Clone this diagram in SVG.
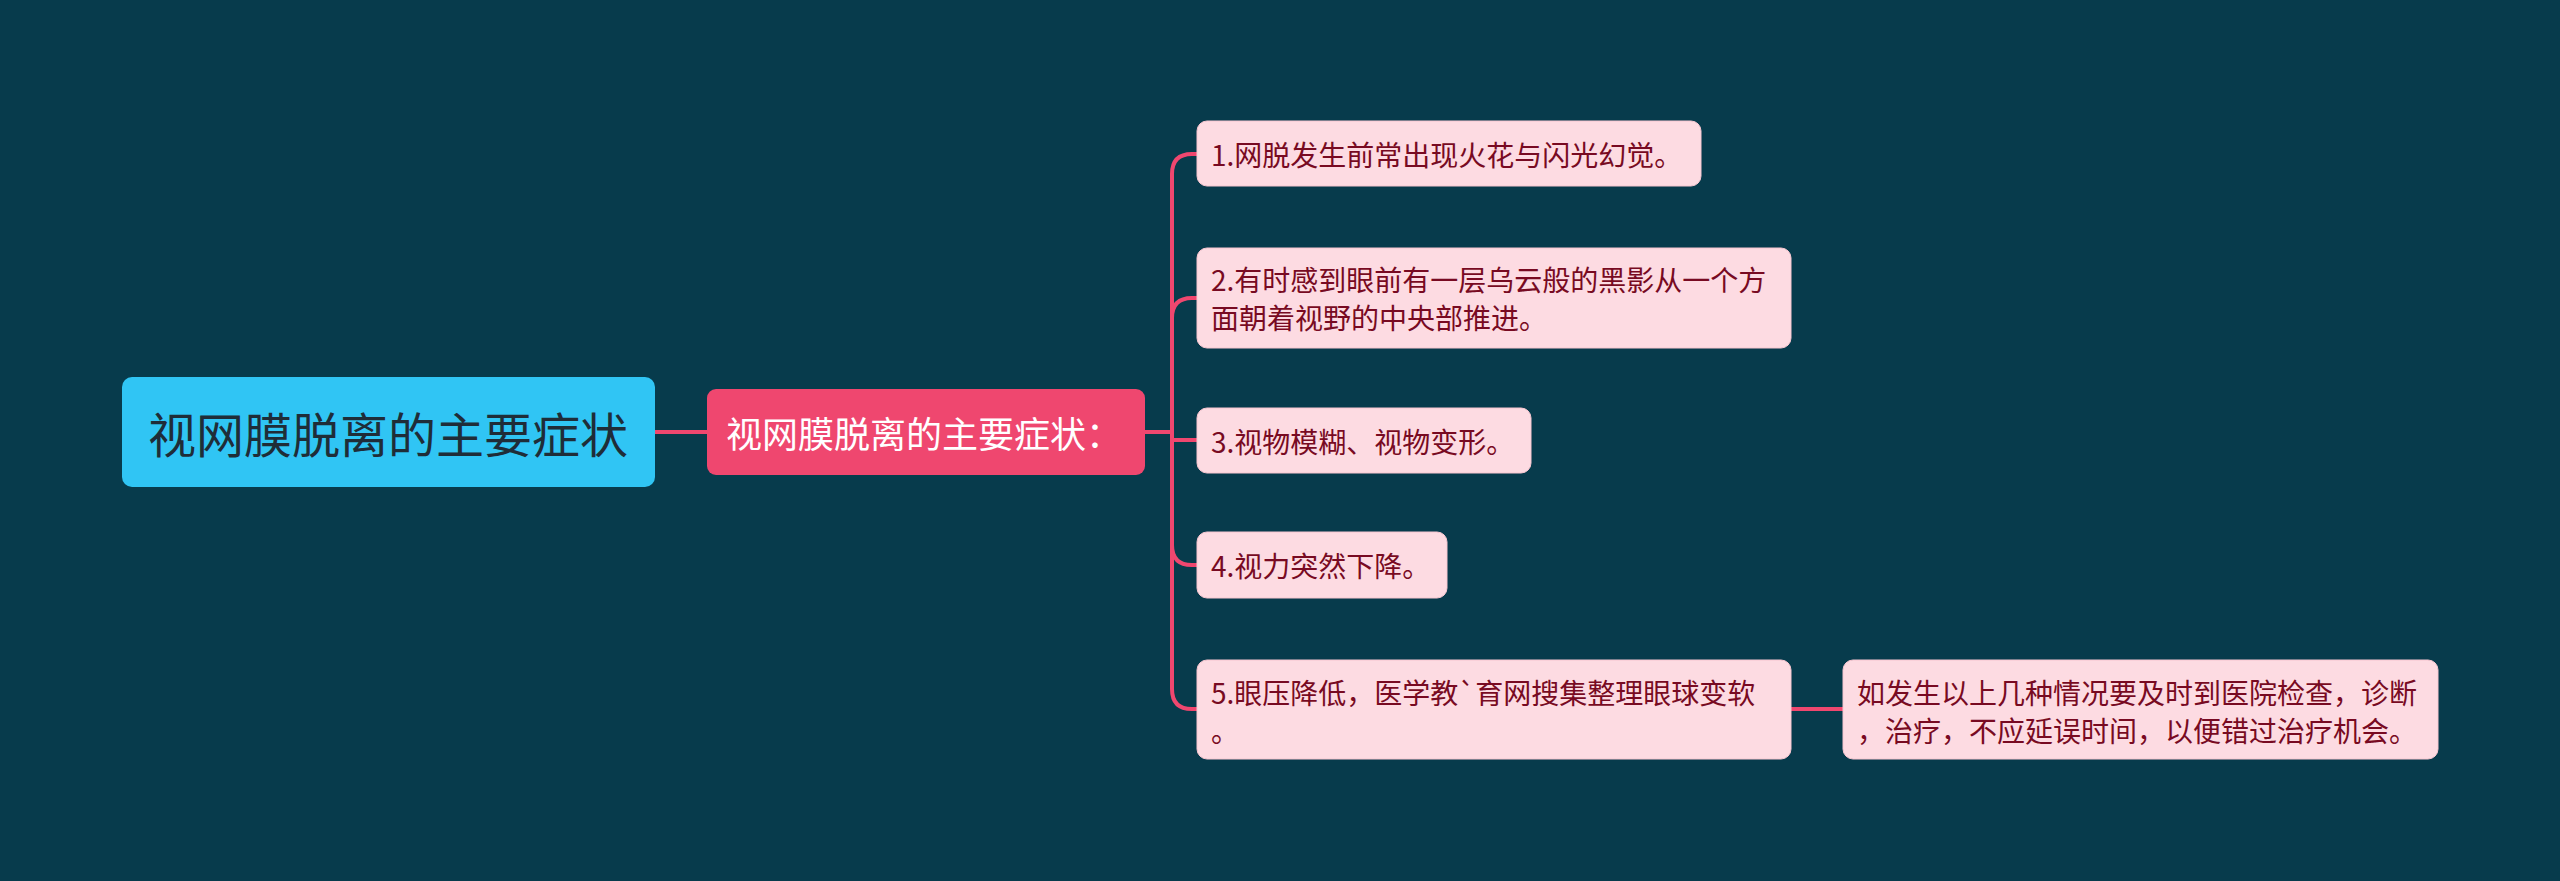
<svg xmlns="http://www.w3.org/2000/svg" width="2560" height="881" viewBox="0 0 2560 881">
<style>
.bg{fill:#073B4C}
.conn path{fill:none;stroke:#EF476F;stroke-width:4}
.child rect{fill:#FDDBE2;stroke:#F7C6D0;stroke-width:1}
.child text{font-family:"Noto Sans CJK SC","Noto Sans",sans-serif;font-size:28px;fill:#780A22;dominant-baseline:central}
</style>
<rect class="bg" x="0" y="0" width="2560" height="881"/>
<g id="connectors" class="conn">
<path d="M655,432 H707"/>
<path d="M1145,432 H1172"/>
<path d="M1172,432 V174 Q1172,154 1192,154 H1197"/>
<path d="M1172,432 V318 Q1172,298 1192,298 H1197"/>
<path d="M1172,432 V440 H1197"/>
<path d="M1172,432 V545 Q1172,565 1192,565 H1197"/>
<path d="M1172,432 V689 Q1172,709 1192,709 H1197"/>
<path d="M1791,709 H1843"/>
</g>
<g id="root">
<rect x="122" y="377" width="533" height="110" rx="10" fill="#30C5F4"/>
<text x="388" y="432" text-anchor="middle" dominant-baseline="central" font-family="Noto Sans CJK SC, sans-serif" font-size="48" fill="#1F2D38">视网膜脱离的主要症状</text>
</g>
<g id="main">
<rect x="707" y="389" width="438" height="86" rx="9" fill="#EF476F"/>
<text x="726" y="432" dominant-baseline="central" font-family="Noto Sans CJK SC, sans-serif" font-size="36" fill="#FFFFFF">视网膜脱离的主要症状：</text>
</g>
<g id="c1" class="child">
<rect x="1197" y="121" width="504" height="65" rx="10"/>
<text x="1211" y="154">1.网脱发生前常出现火花与闪光幻觉。</text>
</g>
<g id="c2" class="child">
<rect x="1197" y="248" width="594" height="100" rx="10"/>
<text x="1211" y="279">2.有时感到眼前有一层乌云般的黑影从一个方</text>
<text x="1211" y="317">面朝着视野的中央部推进。</text>
</g>
<g id="c3" class="child">
<rect x="1197" y="408" width="334" height="65" rx="10"/>
<text x="1211" y="441">3.视物模糊、视物变形。</text>
</g>
<g id="c4" class="child">
<rect x="1197" y="532" width="250" height="66" rx="10"/>
<text x="1211" y="565">4.视力突然下降。</text>
</g>
<g id="c5" class="child">
<rect x="1197" y="660" width="594" height="99" rx="10"/>
<text x="1211" y="692">5.眼压降低，医学教`育网搜集整理眼球变软</text>
<text x="1211" y="730">。</text>
</g>
<g id="c6" class="child">
<rect x="1843" y="660" width="595" height="99" rx="10"/>
<text x="1857" y="692">如发生以上几种情况要及时到医院检查，诊断</text>
<text x="1857" y="730">，治疗，不应延误时间，以便错过治疗机会。</text>
</g>
</svg>
